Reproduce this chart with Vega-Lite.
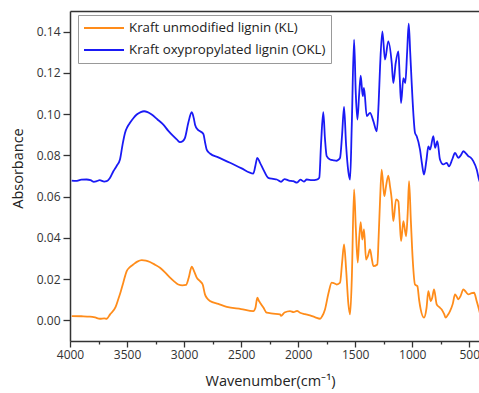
{
  "$schema": "https://vega.github.io/schema/vega-lite/v6.json",
  "width": 409,
  "height": 330,
  "autosize": {"type": "none"},
  "padding": {"left": 70, "top": 11, "right": 0, "bottom": 52},
  "background": "white",
  "config": {
    "font": "Open Sans",
    "view": {"stroke": null},
    "axis": {
      "domainColor": "#333333",
      "domainWidth": 1.5,
      "tickColor": "#333333",
      "tickWidth": 1.3,
      "labelColor": "#333333",
      "labelFontSize": 12,
      "titleColor": "#222222",
      "titleFontSize": 14.5,
      "titleFontWeight": "normal",
      "grid": false
    }
  },
  "data": {
    "values": [
      {"w":3985,"a":0.0021,"s":"KL"},{"w":3900,"a":0.0020,"s":"KL"},{"w":3825,"a":0.0018,"s":"KL"},{"w":3780,"a":0.0014,"s":"KL"},{"w":3737,"a":0.0008,"s":"KL"},{"w":3700,"a":0.0010,"s":"KL"},{"w":3678,"a":0.0008,"s":"KL"},{"w":3649,"a":0.0029,"s":"KL"},{"w":3600,"a":0.0065,"s":"KL"},{"w":3577,"a":0.0102,"s":"KL"},{"w":3555,"a":0.0140,"s":"KL"},{"w":3533,"a":0.0183,"s":"KL"},{"w":3503,"a":0.0239,"s":"KL"},{"w":3475,"a":0.0258,"s":"KL"},{"w":3445,"a":0.0271,"s":"KL"},{"w":3410,"a":0.0285,"s":"KL"},{"w":3371,"a":0.0292,"s":"KL"},{"w":3335,"a":0.0290,"s":"KL"},{"w":3299,"a":0.0283,"s":"KL"},{"w":3255,"a":0.0270,"s":"KL"},{"w":3211,"a":0.0255,"s":"KL"},{"w":3165,"a":0.0232,"s":"KL"},{"w":3123,"a":0.0207,"s":"KL"},{"w":3085,"a":0.0188,"s":"KL"},{"w":3051,"a":0.0174,"s":"KL"},{"w":3015,"a":0.0170,"s":"KL"},{"w":2983,"a":0.0172,"s":"KL"},{"w":2960,"a":0.0205,"s":"KL"},{"w":2933,"a":0.0260,"s":"KL"},{"w":2910,"a":0.0235,"s":"KL"},{"w":2889,"a":0.0207,"s":"KL"},{"w":2860,"a":0.0190,"s":"KL"},{"w":2837,"a":0.0174,"s":"KL"},{"w":2817,"a":0.0126,"s":"KL"},{"w":2800,"a":0.0108,"s":"KL"},{"w":2773,"a":0.0094,"s":"KL"},{"w":2700,"a":0.0080,"s":"KL"},{"w":2626,"a":0.0066,"s":"KL"},{"w":2500,"a":0.0055,"s":"KL"},{"w":2393,"a":0.0045,"s":"KL"},{"w":2375,"a":0.0060,"s":"KL"},{"w":2358,"a":0.0110,"s":"KL"},{"w":2345,"a":0.0095,"s":"KL"},{"w":2334,"a":0.0086,"s":"KL"},{"w":2305,"a":0.0062,"s":"KL"},{"w":2276,"a":0.0037,"s":"KL"},{"w":2220,"a":0.0033,"s":"KL"},{"w":2159,"a":0.0029,"s":"KL"},{"w":2150,"a":0.0022,"s":"KL"},{"w":2120,"a":0.0038,"s":"KL"},{"w":2071,"a":0.0045,"s":"KL"},{"w":2040,"a":0.0040,"s":"KL"},{"w":2010,"a":0.0046,"s":"KL"},{"w":1984,"a":0.0037,"s":"KL"},{"w":1940,"a":0.0030,"s":"KL"},{"w":1896,"a":0.0024,"s":"KL"},{"w":1850,"a":0.0015,"s":"KL"},{"w":1808,"a":0.0008,"s":"KL"},{"w":1790,"a":0.0020,"s":"KL"},{"w":1765,"a":0.0053,"s":"KL"},{"w":1735,"a":0.0130,"s":"KL"},{"w":1706,"a":0.0183,"s":"KL"},{"w":1685,"a":0.0180,"s":"KL"},{"w":1662,"a":0.0174,"s":"KL"},{"w":1633,"a":0.0183,"s":"KL"},{"w":1615,"a":0.0280,"s":"KL"},{"w":1598,"a":0.0368,"s":"KL"},{"w":1580,"a":0.0250,"s":"KL"},{"w":1560,"a":0.0080,"s":"KL"},{"w":1545,"a":0.0029,"s":"KL"},{"w":1530,"a":0.0200,"s":"KL"},{"w":1510,"a":0.0635,"s":"KL"},{"w":1495,"a":0.0450,"s":"KL"},{"w":1478,"a":0.0280,"s":"KL"},{"w":1465,"a":0.0400,"s":"KL"},{"w":1452,"a":0.0476,"s":"KL"},{"w":1438,"a":0.0392,"s":"KL"},{"w":1423,"a":0.0441,"s":"KL"},{"w":1405,"a":0.0295,"s":"KL"},{"w":1390,"a":0.0310,"s":"KL"},{"w":1370,"a":0.0344,"s":"KL"},{"w":1355,"a":0.0300,"s":"KL"},{"w":1341,"a":0.0263,"s":"KL"},{"w":1306,"a":0.0271,"s":"KL"},{"w":1295,"a":0.0400,"s":"KL"},{"w":1282,"a":0.0586,"s":"KL"},{"w":1268,"a":0.0731,"s":"KL"},{"w":1245,"a":0.0602,"s":"KL"},{"w":1230,"a":0.0650,"s":"KL"},{"w":1210,"a":0.0702,"s":"KL"},{"w":1195,"a":0.0650,"s":"KL"},{"w":1180,"a":0.0586,"s":"KL"},{"w":1166,"a":0.0481,"s":"KL"},{"w":1142,"a":0.0586,"s":"KL"},{"w":1122,"a":0.0578,"s":"KL"},{"w":1110,"a":0.0480,"s":"KL"},{"w":1098,"a":0.0384,"s":"KL"},{"w":1078,"a":0.0481,"s":"KL"},{"w":1054,"a":0.0408,"s":"KL"},{"w":1040,"a":0.0520,"s":"KL"},{"w":1028,"a":0.0675,"s":"KL"},{"w":1012,"a":0.0480,"s":"KL"},{"w":996,"a":0.0295,"s":"KL"},{"w":976,"a":0.0174,"s":"KL"},{"w":955,"a":0.0166,"s":"KL"},{"w":940,"a":0.0100,"s":"KL"},{"w":926,"a":0.0053,"s":"KL"},{"w":897,"a":0.0013,"s":"KL"},{"w":875,"a":0.0060,"s":"KL"},{"w":859,"a":0.0142,"s":"KL"},{"w":838,"a":0.0093,"s":"KL"},{"w":825,"a":0.0110,"s":"KL"},{"w":809,"a":0.0150,"s":"KL"},{"w":786,"a":0.0078,"s":"KL"},{"w":765,"a":0.0065,"s":"KL"},{"w":742,"a":0.0053,"s":"KL"},{"w":720,"a":0.0030,"s":"KL"},{"w":707,"a":0.0013,"s":"KL"},{"w":690,"a":0.0025,"s":"KL"},{"w":669,"a":0.0045,"s":"KL"},{"w":645,"a":0.0080,"s":"KL"},{"w":625,"a":0.0126,"s":"KL"},{"w":610,"a":0.0115,"s":"KL"},{"w":596,"a":0.0102,"s":"KL"},{"w":575,"a":0.0120,"s":"KL"},{"w":552,"a":0.0150,"s":"KL"},{"w":530,"a":0.0138,"s":"KL"},{"w":508,"a":0.0126,"s":"KL"},{"w":480,"a":0.0132,"s":"KL"},{"w":458,"a":0.0134,"s":"KL"},{"w":435,"a":0.0093,"s":"KL"},{"w":415,"a":0.0053,"s":"KL"},{"w":400,"a":0.0020,"s":"KL"},
      {"w":3985,"a":0.0678,"s":"OKL"},{"w":3950,"a":0.0676,"s":"OKL"},{"w":3900,"a":0.0682,"s":"OKL"},{"w":3854,"a":0.0683,"s":"OKL"},{"w":3820,"a":0.0680,"s":"OKL"},{"w":3790,"a":0.0672,"s":"OKL"},{"w":3766,"a":0.0675,"s":"OKL"},{"w":3740,"a":0.0680,"s":"OKL"},{"w":3700,"a":0.0673,"s":"OKL"},{"w":3678,"a":0.0675,"s":"OKL"},{"w":3650,"a":0.0690,"s":"OKL"},{"w":3620,"a":0.0723,"s":"OKL"},{"w":3590,"a":0.0750,"s":"OKL"},{"w":3562,"a":0.0780,"s":"OKL"},{"w":3540,"a":0.0850,"s":"OKL"},{"w":3518,"a":0.0909,"s":"OKL"},{"w":3495,"a":0.0940,"s":"OKL"},{"w":3474,"a":0.0958,"s":"OKL"},{"w":3445,"a":0.0980,"s":"OKL"},{"w":3415,"a":0.0998,"s":"OKL"},{"w":3380,"a":0.1010,"s":"OKL"},{"w":3351,"a":0.1014,"s":"OKL"},{"w":3320,"a":0.1010,"s":"OKL"},{"w":3284,"a":0.0998,"s":"OKL"},{"w":3235,"a":0.0975,"s":"OKL"},{"w":3182,"a":0.0949,"s":"OKL"},{"w":3140,"a":0.0920,"s":"OKL"},{"w":3094,"a":0.0893,"s":"OKL"},{"w":3060,"a":0.0875,"s":"OKL"},{"w":3036,"a":0.0864,"s":"OKL"},{"w":3010,"a":0.0870,"s":"OKL"},{"w":2992,"a":0.0885,"s":"OKL"},{"w":2963,"a":0.0958,"s":"OKL"},{"w":2933,"a":0.1009,"s":"OKL"},{"w":2915,"a":0.0980,"s":"OKL"},{"w":2904,"a":0.0949,"s":"OKL"},{"w":2880,"a":0.0925,"s":"OKL"},{"w":2860,"a":0.0917,"s":"OKL"},{"w":2831,"a":0.0904,"s":"OKL"},{"w":2815,"a":0.0860,"s":"OKL"},{"w":2802,"a":0.0828,"s":"OKL"},{"w":2773,"a":0.0809,"s":"OKL"},{"w":2700,"a":0.0790,"s":"OKL"},{"w":2597,"a":0.0764,"s":"OKL"},{"w":2500,"a":0.0738,"s":"OKL"},{"w":2393,"a":0.0712,"s":"OKL"},{"w":2375,"a":0.0750,"s":"OKL"},{"w":2358,"a":0.0788,"s":"OKL"},{"w":2334,"a":0.0764,"s":"OKL"},{"w":2305,"a":0.0731,"s":"OKL"},{"w":2262,"a":0.0691,"s":"OKL"},{"w":2220,"a":0.0686,"s":"OKL"},{"w":2188,"a":0.0683,"s":"OKL"},{"w":2150,"a":0.0672,"s":"OKL"},{"w":2120,"a":0.0685,"s":"OKL"},{"w":2080,"a":0.0678,"s":"OKL"},{"w":2043,"a":0.0675,"s":"OKL"},{"w":2010,"a":0.0668,"s":"OKL"},{"w":1980,"a":0.0682,"s":"OKL"},{"w":1950,"a":0.0673,"s":"OKL"},{"w":1925,"a":0.0683,"s":"OKL"},{"w":1880,"a":0.0680,"s":"OKL"},{"w":1837,"a":0.0683,"s":"OKL"},{"w":1815,"a":0.0692,"s":"OKL"},{"w":1800,"a":0.0850,"s":"OKL"},{"w":1780,"a":0.1009,"s":"OKL"},{"w":1765,"a":0.0880,"s":"OKL"},{"w":1750,"a":0.0796,"s":"OKL"},{"w":1721,"a":0.0780,"s":"OKL"},{"w":1690,"a":0.0776,"s":"OKL"},{"w":1662,"a":0.0774,"s":"OKL"},{"w":1645,"a":0.0780,"s":"OKL"},{"w":1633,"a":0.0788,"s":"OKL"},{"w":1615,"a":0.0900,"s":"OKL"},{"w":1598,"a":0.1035,"s":"OKL"},{"w":1580,"a":0.0850,"s":"OKL"},{"w":1560,"a":0.0720,"s":"OKL"},{"w":1545,"a":0.0683,"s":"OKL"},{"w":1530,"a":0.0950,"s":"OKL"},{"w":1510,"a":0.1361,"s":"OKL"},{"w":1495,"a":0.1100,"s":"OKL"},{"w":1481,"a":0.0974,"s":"OKL"},{"w":1465,"a":0.1100,"s":"OKL"},{"w":1452,"a":0.1187,"s":"OKL"},{"w":1434,"a":0.1087,"s":"OKL"},{"w":1423,"a":0.1127,"s":"OKL"},{"w":1399,"a":0.0990,"s":"OKL"},{"w":1370,"a":0.1006,"s":"OKL"},{"w":1341,"a":0.0966,"s":"OKL"},{"w":1311,"a":0.0917,"s":"OKL"},{"w":1295,"a":0.1050,"s":"OKL"},{"w":1282,"a":0.1232,"s":"OKL"},{"w":1262,"a":0.1401,"s":"OKL"},{"w":1239,"a":0.1264,"s":"OKL"},{"w":1210,"a":0.1353,"s":"OKL"},{"w":1180,"a":0.1248,"s":"OKL"},{"w":1166,"a":0.1151,"s":"OKL"},{"w":1145,"a":0.1248,"s":"OKL"},{"w":1122,"a":0.1304,"s":"OKL"},{"w":1110,"a":0.1180,"s":"OKL"},{"w":1098,"a":0.1054,"s":"OKL"},{"w":1078,"a":0.1175,"s":"OKL"},{"w":1061,"a":0.1151,"s":"OKL"},{"w":1045,"a":0.1300,"s":"OKL"},{"w":1031,"a":0.1439,"s":"OKL"},{"w":1018,"a":0.1300,"s":"OKL"},{"w":1005,"a":0.1151,"s":"OKL"},{"w":990,"a":0.1000,"s":"OKL"},{"w":976,"a":0.0909,"s":"OKL"},{"w":961,"a":0.0893,"s":"OKL"},{"w":932,"a":0.0828,"s":"OKL"},{"w":915,"a":0.0760,"s":"OKL"},{"w":897,"a":0.0707,"s":"OKL"},{"w":875,"a":0.0780,"s":"OKL"},{"w":859,"a":0.0844,"s":"OKL"},{"w":844,"a":0.0828,"s":"OKL"},{"w":815,"a":0.0893,"s":"OKL"},{"w":800,"a":0.0837,"s":"OKL"},{"w":780,"a":0.0869,"s":"OKL"},{"w":757,"a":0.0780,"s":"OKL"},{"w":728,"a":0.0756,"s":"OKL"},{"w":698,"a":0.0764,"s":"OKL"},{"w":678,"a":0.0747,"s":"OKL"},{"w":650,"a":0.0780,"s":"OKL"},{"w":625,"a":0.0812,"s":"OKL"},{"w":596,"a":0.0788,"s":"OKL"},{"w":575,"a":0.0800,"s":"OKL"},{"w":552,"a":0.0820,"s":"OKL"},{"w":530,"a":0.0810,"s":"OKL"},{"w":508,"a":0.0796,"s":"OKL"},{"w":490,"a":0.0790,"s":"OKL"},{"w":465,"a":0.0772,"s":"OKL"},{"w":435,"a":0.0731,"s":"OKL"},{"w":415,"a":0.0683,"s":"OKL"},{"w":400,"a":0.0660,"s":"OKL"}
    ]
  },
  "resolve": {"axis": {"x": "independent"}},
  "layer": [
    {
      "mark": {"type": "line", "strokeWidth": 1.8, "clip": true, "interpolate": "monotone"},
      "encoding": {
        "x": {
          "field": "w", "type": "quantitative",
          "scale": {"domain": [4000, 415], "nice": false, "zero": false},
          "axis": {
            "orient": "bottom",
            "title": "Wavenumber(cm⁻¹)",
            "values": [4000,3750,3500,3250,3000,2750,2500,2250,2000,1750,1500,1250,1000,750,500],
            "labelExpr": "datum.value % 500 == 0 ? datum.label : ''",
            "format": "d",
            "tickSize": {"condition": {"test": "datum.value % 500 == 0", "value": 6}, "value": 3},
            "labelPadding": 2,
            "titleX": 200,
            "titleY": 33,
            "labelFlush": false
          }
        },
        "y": {
          "field": "a", "type": "quantitative",
          "scale": {"domain": [-0.01, 0.15], "nice": false, "zero": false},
          "axis": {
            "title": "Absorbance",
            "values": [0,0.01,0.02,0.03,0.04,0.05,0.06,0.07,0.08,0.09,0.10,0.11,0.12,0.13,0.14],
            "format": ".2f",
            "labelExpr": "round(datum.value*100) % 2 == 0 ? datum.label : ''",
            "tickSize": {"condition": {"test": "round(datum.value*100) % 2 == 0", "value": 7}, "value": 4},
            "labelPadding": 3,
            "titleX": -45,
            "titleY": 157
          }
        },
        "color": {
          "field": "s", "type": "nominal",
          "scale": {"domain": ["KL", "OKL"], "range": ["#ff8c1a", "#1a1af5"]},
          "legend": {
            "orient": "none",
            "legendX": 8,
            "legendY": 4,
            "title": null,
            "symbolType": "stroke",
            "symbolSize": 1600,
            "symbolStrokeWidth": 2,
            "clipHeight": 16,
            "rowPadding": 6,
            "padding": 5,
            "labelOffset": 4,
            "labelLimit": 0,
            "labelFontSize": 13.3,
            "labelFont": "Open Sans",
            "labelColor": "#222222",
            "strokeColor": "#999999",
            "fillColor": "white",
            "labelExpr": "datum.value == 'KL' ? 'Kraft unmodified lignin (KL)' : 'Kraft oxypropylated lignin (OKL)'"
          }
        }
      }
    },
    {
      "mark": {"type": "line", "strokeOpacity": 0, "clip": true},
      "encoding": {
        "x": {
          "field": "w", "type": "quantitative",
          "axis": {"orient": "top", "title": null, "labels": false, "ticks": false, "domain": true}
        },
        "y": {"field": "a", "type": "quantitative"},
        "detail": {"field": "s"}
      }
    }
  ]
}
